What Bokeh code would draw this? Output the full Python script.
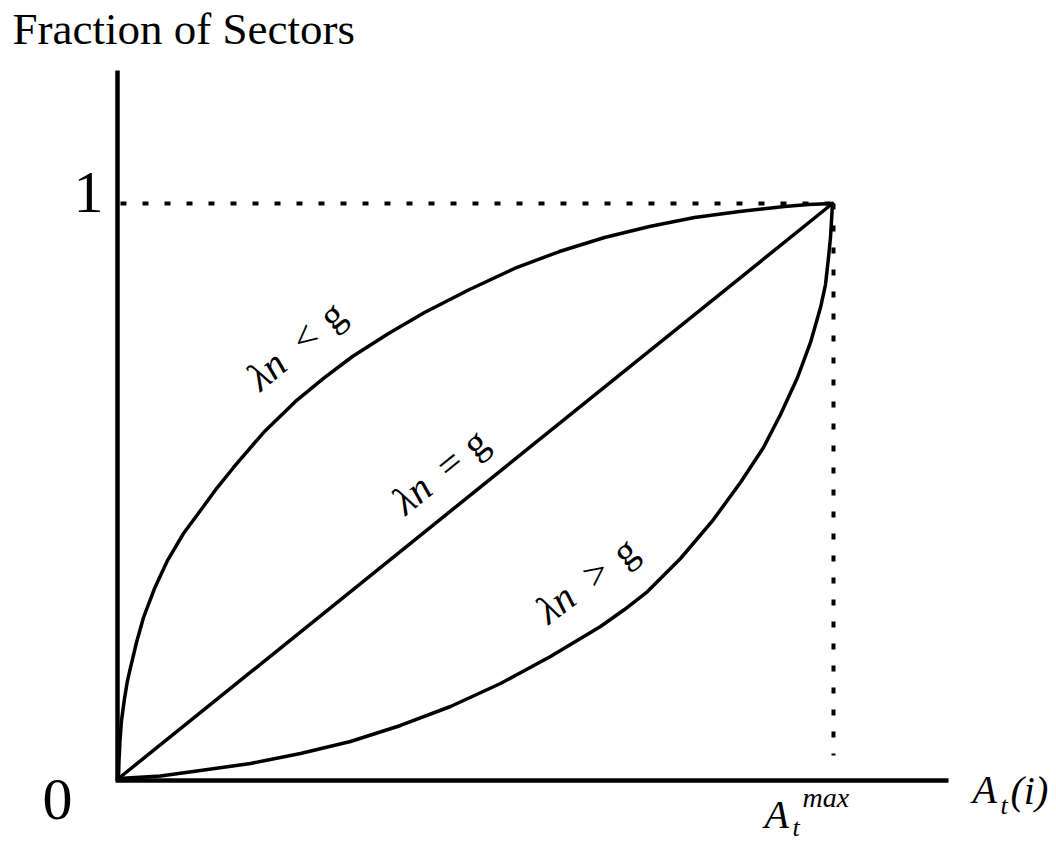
import math
from bokeh.plotting import figure
from bokeh.models import Range1d
from bokeh.core.properties import value
from bokeh.embed import file_html
from bokeh.resources import INLINE

# ---- data (x: A_t(i) / A_t^max, y: fraction of sectors) ----
upper_x = [0, 0.0007, 0.0021, 0.0042, 0.0084, 0.0126, 0.0168, 0.0252, 0.0350, 0.0504,
           0.0686, 0.0910, 0.1148, 0.1373, 0.1611, 0.2031, 0.2479, 0.2871, 0.3277, 0.3782,
           0.4286, 0.4916, 0.5546, 0.6176, 0.6807, 0.7437, 0.8067, 0.8697, 0.9328, 0.9664, 1.0]
upper_y = [0, 0.0313, 0.0661, 0.1009, 0.1391, 0.1704, 0.1930, 0.2365, 0.2800, 0.3304,
           0.3791, 0.4261, 0.4661, 0.5043, 0.5409, 0.6017, 0.6557, 0.6957, 0.7339, 0.7739,
           0.8104, 0.8504, 0.8870, 0.9165, 0.9409, 0.9600, 0.9757, 0.9861, 0.9948, 0.9983, 1.0]

equal_x = [0, 1.0]
equal_y = [0, 1.0]

lower_x = [0, 0.0588, 0.1148, 0.1849, 0.2549, 0.3249, 0.3950, 0.4650, 0.5350, 0.6050,
           0.6751, 0.7087, 0.7409, 0.7871, 0.8333, 0.8711, 0.9034, 0.9272, 0.9510, 0.9692,
           0.9832, 0.9902, 0.9944, 0.9972, 1.0]
lower_y = [0, 0.0043, 0.0139, 0.0261, 0.0435, 0.0643, 0.0922, 0.1252, 0.1652, 0.2122,
           0.2643, 0.2939, 0.3252, 0.3826, 0.4504, 0.5148, 0.5757, 0.6330, 0.6974, 0.7583,
           0.8191, 0.8591, 0.9061, 0.9409, 1.0]

y_tick_labels = ["0", "1"]
title_text = "Fraction of Sectors"
curve_labels = [("λn", "<", "g"), ("λn", "=", "g"), ("λn", ">", "g")]

# ---- layout ----
W, H = 1056, 843
ORG = 0.0                      # page pixel where the canvas starts
SX, SY = 714.0, 575.0          # pixels per data unit
X0PX, Y0PX = 118.0, 778.0      # page pixel of data origin
LIFT = 0.41                    # baseline correction (fraction of font size)

x_range = Range1d((ORG - X0PX) / SX, (ORG + W - X0PX) / SX)
y_range = Range1d((Y0PX - (ORG + H)) / SY, (Y0PX - ORG) / SY)

p = figure(width=W, height=H, x_range=x_range, y_range=y_range,
           toolbar_location=None, output_backend="svg",
           x_axis_location=None, y_axis_location=None, min_border=0)
p.grid.visible = False
p.outline_line_color = None
p.background_fill_color = "white"
p.border_fill_color = "white"

SERIF = value("Liberation Serif")

def dx(px):
    return px / SX

def dy(px):
    return px / SY

# axes
p.line([-dx(1), -dx(1)], [-dy(2), (Y0PX - 70) / SY], line_color="black", line_width=4.5)
p.line([-dx(3), (948 - X0PX) / SX], [-dy(2), -dy(2)], line_color="black", line_width=4.5)

# dotted guides
p.line([dx(2), 1.0], [1.0, 1.0], line_color="black", line_width=4, line_dash="6 16")
p.line([1.0 + dx(1), 1.0 + dx(1)], [1.0, dy(23)], line_color="black", line_width=4, line_dash="6 16")

# curves
for xs, ys in [(upper_x, upper_y), (equal_x, equal_y), (lower_x, lower_y)]:
    p.line(xs, ys, line_color="black", line_width=3.5, line_join="round", line_cap="round")

def txt(px, py, s, size, style="normal", align="left", angle=0.0):
    """px, py: page pixel of the text's baseline anchor."""
    lift = LIFT * size
    x = dx(px - X0PX) - dx(lift * math.sin(angle))
    y = dy(Y0PX - py) + dy(lift * math.cos(angle))
    p.text(x=[x], y=[y], text=[s], text_font=SERIF, text_font_size=f"{size}px",
           text_font_style=style, text_align=align, text_baseline="alphabetic",
           text_color="black", angle=angle)

# title
txt(12, 47, title_text, 45)

# tick labels
txt(57, 824, y_tick_labels[0], 60, align="center")
txt(88, 217, y_tick_labels[1], 60, align="center")

# x axis label A_t(i)
txt(972, 805, "A", 40, "italic")
txt(1000, 816, "t", 26, "italic")
txt(1010, 806, "(i)", 40, "italic")

# A_t^max
txt(764, 830, "A", 40, "italic")
txt(792, 838, "t", 26, "italic")
txt(802, 808, "max", 28, "italic")

# curve labels (rotated): start point in page pixels, angle in degrees, piece offsets
label_specs = [((262, 394), 40.0, (0, 58, 94)),
               ((407, 518), 39.0, (0, 56, 90)),
               ((550, 627), 37.0, (0, 58, 95))]
for (pieces, ((sx, sy), deg, offs)) in zip(curve_labels, label_specs):
    th = math.radians(deg)
    for k, (s, d) in enumerate(zip(pieces, offs)):
        style = "italic" if k == 0 else "normal"
        txt(sx + d * math.cos(th), sy - d * math.sin(th), s, 40, style, angle=th)

open("out.html", "w").write(file_html(p, INLINE))
